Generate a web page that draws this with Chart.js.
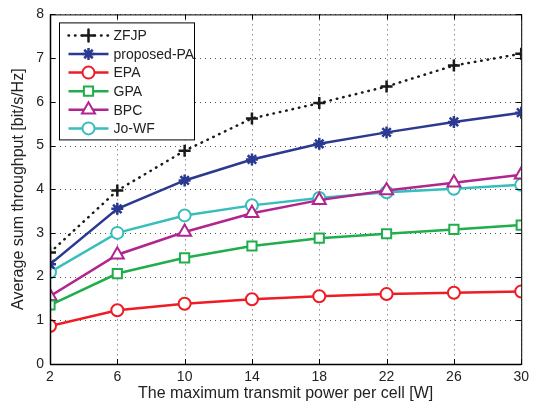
<!DOCTYPE html>
<html>
<head>
<meta charset="utf-8">
<script src="https://cdn.jsdelivr.net/npm/chart.js@4/dist/chart.umd.min.js"></script>
<style>
html,body{margin:0;padding:0;background:#fff}
#wrap{width:534px;height:406px}
</style>
</head>
<body>
<div id="wrap"><canvas id="chart"></canvas></div>
<script>
const power = [2, 6, 10, 14, 18, 22, 26, 30];
const zfjp = [2.55, 3.97, 4.88, 5.62, 5.97, 6.35, 6.83, 7.1];
const proposedPA = [2.28, 3.55, 4.2, 4.68, 5.04, 5.3, 5.54, 5.75];
const epa = [0.87, 1.23, 1.38, 1.48, 1.55, 1.6, 1.63, 1.66];
const gpa = [1.35, 2.07, 2.43, 2.7, 2.88, 2.98, 3.08, 3.18];
const bpc = [1.55, 2.5, 3.02, 3.45, 3.75, 3.97, 4.15, 4.33];
const joWF = [2.1, 3.0, 3.4, 3.63, 3.8, 3.93, 4.01, 4.1];
const xTicks = [2, 6, 10, 14, 18, 22, 26, 30];
const yTicks = [0, 1, 2, 3, 4, 5, 6, 7, 8];

const pts = arr => arr.map((v, i) => ({x: power[i], y: v}));

const FONT = "'Liberation Sans', Arial, sans-serif";

function series(label, data, color, style, radius, dash) {
    return {
        label: label,
        data: pts(data),
        borderColor: color,
        backgroundColor: style === 'star' || style === 'cross' ? color : '#ffffff',
        pointBorderColor: color,
        borderWidth: 2.5,
        borderDash: dash || [],
        borderCapStyle: dash ? 'round' : 'butt',
        pointStyle: style,
        pointRadius: radius,
        pointBorderWidth: style === 'cross' || style === 'star' ? 2.5 : 2,
        tension: 0
    };
}

// dotted grid, drawn under the lines
const dotGrid = {
    id: 'dotGrid',
    beforeDatasetsDraw(c) {
        const ctx = c.ctx;
        const a = c.chartArea;
        ctx.save();
        ctx.strokeStyle = '#555';
        ctx.lineWidth = 1;
        ctx.setLineDash([1, 4]);
        ctx.beginPath();
        xTicks.forEach(t => {
            const px = Math.round(c.scales.x.getPixelForValue(t)) + 0.5;
            ctx.moveTo(px, a.top); ctx.lineTo(px, a.bottom);
        });
        yTicks.forEach(t => {
            const py = Math.round(c.scales.y.getPixelForValue(t)) + 0.5;
            ctx.moveTo(a.left, py); ctx.lineTo(a.right, py);
        });
        ctx.stroke();
        ctx.restore();
    }
};

// legend drawn inside the plot, with a box round it
const boxLegend = {
    id: 'boxLegend',
    afterDatasetsDraw(c) {
        const ctx = c.ctx;
        const a = c.chartArea;
        const x0 = a.left + 9.5, y0 = a.top + 8.5, w = 135, h = 117;
        ctx.save();
        ctx.fillStyle = '#fff';
        ctx.fillRect(x0, y0, w, h);
        ctx.strokeStyle = '#000';
        ctx.lineWidth = 1;
        ctx.strokeRect(x0, y0, w, h);
        c.data.datasets.forEach((d, i) => {
            const y = y0 + 12.5 + i * 18.6;
            ctx.strokeStyle = d.borderColor;
            ctx.lineWidth = d.borderWidth;
            ctx.lineCap = d.borderCapStyle;
            ctx.setLineDash(d.borderDash);
            ctx.beginPath();
            ctx.moveTo(x0 + 9, y);
            ctx.lineTo(x0 + 49, y);
            ctx.stroke();
            ctx.setLineDash([]);
            ctx.lineWidth = d.pointBorderWidth;
            ctx.fillStyle = d.backgroundColor;
            Chart.helpers.drawPoint(ctx, {pointStyle: d.pointStyle, radius: d.pointRadius, borderWidth: d.pointBorderWidth}, x0 + 29, y);
            ctx.fillStyle = '#222';
            ctx.font = '14px ' + FONT;
            ctx.textBaseline = 'middle';
            ctx.fillText(d.label, x0 + 54, y + 1);
        });
        ctx.restore();
    }
};

// matlab style frame with inward ticks
const frame = {
    id: 'frame',
    afterDraw(c) {
        const ctx = c.ctx;
        const a = c.chartArea;
        const xs = c.scales.x, ys = c.scales.y;
        ctx.save();
        ctx.strokeStyle = '#000';
        ctx.lineWidth = 1;
        ctx.strokeRect(a.left + 0.5, a.top + 0.5, a.right - a.left, a.bottom - a.top);
        ctx.lineWidth = 1.5;
        ctx.beginPath();
        ctx.moveTo(a.left, a.bottom + 0.5); ctx.lineTo(a.right, a.bottom + 0.5);
        ctx.moveTo(a.left + 0.5, a.top); ctx.lineTo(a.left + 0.5, a.bottom);
        ctx.stroke();
        ctx.lineWidth = 1;
        ctx.beginPath();
        xTicks.forEach(t => {
            const px = Math.round(xs.getPixelForValue(t)) + 0.5;
            ctx.moveTo(px, a.bottom); ctx.lineTo(px, a.bottom - 5);
            ctx.moveTo(px, a.top); ctx.lineTo(px, a.top + 5);
        });
        yTicks.forEach(v => {
            const py = Math.round(ys.getPixelForValue(v)) + 0.5;
            ctx.moveTo(a.left, py); ctx.lineTo(a.left + 5, py);
            ctx.moveTo(a.right, py); ctx.lineTo(a.right - 5, py);
        });
        ctx.stroke();
        ctx.restore();
    }
};

new Chart(document.querySelector('#chart'), {
    type: 'line',
    data: {
        datasets: [
            series('ZFJP', zfjp, '#1a1a1a', 'cross', 6, [0.5, 6]),
            series('proposed-PA', proposedPA, '#2b3990', 'star', 6),
            series('EPA', epa, '#ee1c25', 'circle', 6),
            series('GPA', gpa, '#1fae4b', 'rect', 6.5),
            series('BPC', bpc, '#b1258f', 'triangle', 7.5),
            series('Jo-WF', joWF, '#38bdbd', 'circle', 6)
        ]
    },
    options: {
        responsive: true,
        maintainAspectRatio: false,
        animation: false,
        layout: {padding: {top: 7, right: 12, left: 0, bottom: 0}},
        plugins: {
            legend: {display: false},
            tooltip: {enabled: false}
        },
        scales: {
            x: {
                type: 'linear',
                min: 2, max: 30,
                afterBuildTicks: s => { s.ticks = xTicks.map(v => ({value: v})); },
                afterFit: s => { s.height = 42; },
                grid: {display: false, drawTicks: false},
                border: {display: false},
                ticks: {color: '#222', font: {family: FONT, size: 14}, padding: 5, maxRotation: 0},
                title: {display: true, text: 'The maximum transmit power per cell [W]', color: '#222', font: {family: FONT, size: 16}, padding: {top: 0, bottom: 3}}
            },
            y: {
                min: 0, max: 8,
                afterFit: s => { s.width = 50; },
                ticks: {stepSize: 1, color: '#222', font: {family: FONT, size: 14}, padding: 6},
                grid: {display: false, drawTicks: false},
                border: {display: false},
                title: {display: true, text: 'Average sum throughput [bit/s/Hz]', color: '#222', font: {family: FONT, size: 16}, padding: {top: 9, bottom: 0}}
            }
        }
    },
    plugins: [dotGrid, boxLegend, frame]
});
</script>
</body>
</html>
